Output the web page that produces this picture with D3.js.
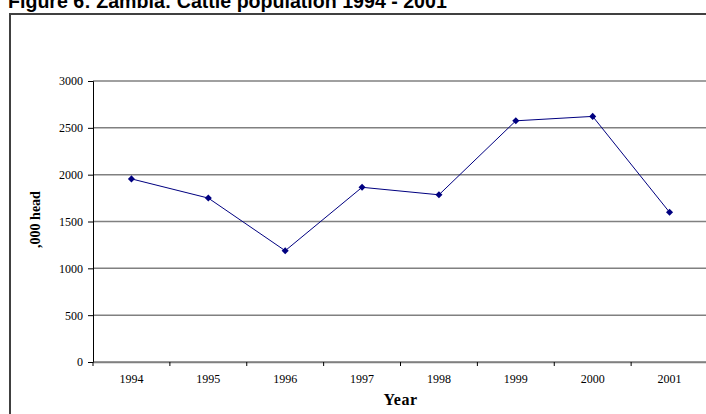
<!DOCTYPE html>
<html><head><meta charset="utf-8">
<script src="https://cdn.jsdelivr.net/npm/d3@7"></script>
<style>html,body{margin:0;padding:0;background:#fff;overflow:hidden}</style>
</head><body>
<script>
const years = ["1994","1995","1996","1997","1998","1999","2000","2001"];
const cattle = [1955, 1750, 1188, 1865, 1785, 2575, 2622, 1598];
const yTicks = [0, 500, 1000, 1500, 2000, 2500, 3000];
const title = "Figure 6: Zambia: Cattle population 1994 - 2001";

(function () {
const W = 706, H = 414;
const serif = "Liberation Serif, Times New Roman, serif";
const svg = d3.select("body").append("svg").attr("width", W).attr("height", H);

svg.append("text").attr("x", 8).attr("y", 8)
  .attr("font-family", "Liberation Sans, Arial, sans-serif").attr("font-weight", "bold")
  .attr("font-size", 19.6).attr("fill", "#000").text(title);

svg.append("rect").attr("x", 10).attr("y", 14).attr("width", 720).attr("height", 420)
  .attr("fill", "none").attr("stroke", "#404040").attr("stroke-width", 2);

const pLeft = 93, pRight = 708, pTop = 81, pBottom = 362;
const x = d3.scaleBand().domain(years).range([pLeft, pRight]);
const y = d3.scaleLinear().domain([0, 3000]).range([pBottom, pTop]);

// gridlines
svg.append("g").selectAll("line").data(yTicks).join("line")
  .attr("x1", pLeft).attr("x2", pRight)
  .attr("y1", d => y(d)).attr("y2", d => y(d))
  .attr("stroke", "#808080").attr("stroke-width", 1.5);

// y axis
const ya = svg.append("g").attr("transform", `translate(${pLeft},0)`)
  .call(d3.axisLeft(y).tickValues(yTicks).tickFormat(d3.format("d")).tickSize(5).tickPadding(5));
ya.select(".domain").attr("stroke", "#000");
ya.selectAll("text").attr("font-family", serif).attr("font-size", 12).attr("fill", "#000");

// x axis
const xa = svg.append("g").attr("transform", `translate(0,${pBottom})`)
  .call(d3.axisBottom(x).tickSize(0).tickPadding(12));
xa.select(".domain").attr("stroke", "#808080").attr("stroke-width", 1.5);
xa.selectAll("text").attr("font-family", serif).attr("font-size", 12).attr("fill", "#000");
svg.append("g").selectAll("line").data(years).join("line")
  .attr("x1", d => x(d)).attr("x2", d => x(d))
  .attr("y1", pBottom).attr("y2", pBottom + 4).attr("stroke", "#000");

// axis titles
svg.append("text").attr("x", (pLeft + pRight) / 2).attr("y", 405).attr("text-anchor", "middle")
  .attr("font-family", serif).attr("font-weight", "bold")
  .attr("font-size", 16).attr("letter-spacing", 0.5).text("Year");
svg.append("text").attr("transform", `translate(40,${(pTop + pBottom) / 2 - 2}) rotate(-90)`)
  .attr("text-anchor", "middle")
  .attr("font-family", serif).attr("font-weight", "bold")
  .attr("font-size", 14).text(",000 head");

// line
const data = years.map((yr, i) => ({yr, v: cattle[i]}));
svg.append("path").datum(data)
  .attr("d", d3.line().x(d => x(d.yr) + x.bandwidth() / 2).y(d => y(d.v)))
  .attr("fill", "none").attr("stroke", "#000080").attr("stroke-width", 1);
svg.append("g").selectAll("path").data(data).join("path")
  .attr("transform", d => `translate(${x(d.yr) + x.bandwidth() / 2},${y(d.v)}) rotate(45)`)
  .attr("d", d3.symbol(d3.symbolSquare, 25))
  .attr("fill", "#000080");
})();
</script>
</body></html>
